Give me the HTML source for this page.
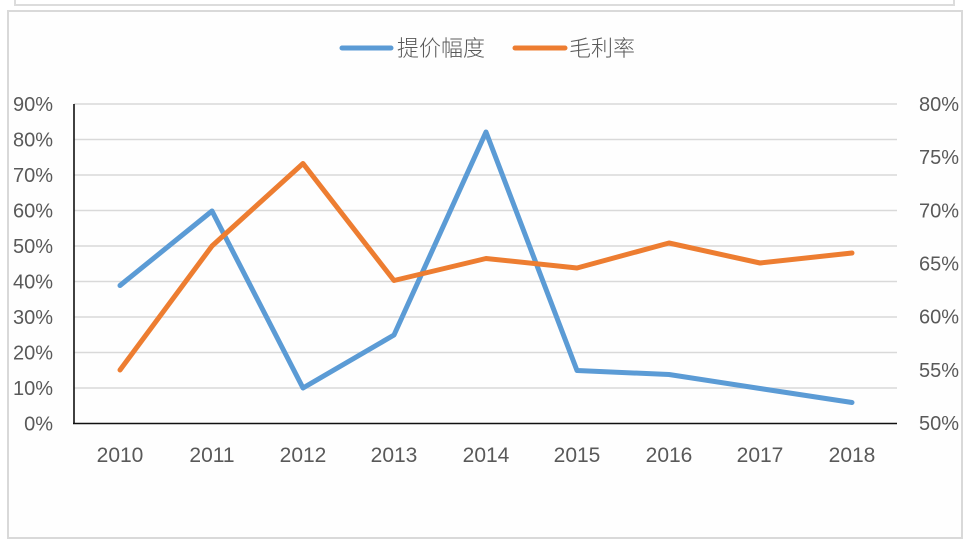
<!DOCTYPE html>
<html>
<head>
<meta charset="utf-8">
<style>
  html,body{margin:0;padding:0;background:#ffffff;}
  svg{display:block;}
  .ax{font-family:"Liberation Sans","Noto Sans CJK SC",sans-serif;font-size:20px;fill:#595959;}
  .xl{font-family:"Liberation Sans","Noto Sans CJK SC",sans-serif;font-size:21px;fill:#595959;}
  .lg{font-family:"Liberation Sans","Noto Sans CJK SC",sans-serif;font-size:22px;fill:#595959;font-weight:300;}
</style>
</head>
<body>
<svg width="972" height="558" viewBox="0 0 972 558" xmlns="http://www.w3.org/2000/svg">
  <rect x="0" y="0" width="972" height="558" fill="#ffffff"/>
  <!-- top partial box -->
  <path d="M15 0 V5 H954 V0" fill="none" stroke="#dcdcdc" stroke-width="2"/>
  <!-- main box -->
  <rect x="8" y="11" width="954" height="527" fill="#fefefe" stroke="#d9d9d9" stroke-width="2"/>

  <!-- legend -->
  <line x1="342" y1="48" x2="391" y2="48" stroke="#5B9BD5" stroke-width="5" stroke-linecap="round"/>
  <text class="lg" x="397" y="56">提价幅度</text>
  <line x1="515" y1="48" x2="565" y2="48" stroke="#ED7D31" stroke-width="5" stroke-linecap="round"/>
  <text class="lg" x="569" y="56">毛利率</text>

  <!-- gridlines -->
  <g stroke="#d9d9d9" stroke-width="1.6">
    <line x1="74" y1="104" x2="897" y2="104"/>
    <line x1="74" y1="139.5" x2="897" y2="139.5"/>
    <line x1="74" y1="175" x2="897" y2="175"/>
    <line x1="74" y1="210.5" x2="897" y2="210.5"/>
    <line x1="74" y1="246" x2="897" y2="246"/>
    <line x1="74" y1="281.5" x2="897" y2="281.5"/>
    <line x1="74" y1="317" x2="897" y2="317"/>
    <line x1="74" y1="352.5" x2="897" y2="352.5"/>
    <line x1="74" y1="388" x2="897" y2="388"/>
  </g>
  <!-- axes -->
  <line x1="74" y1="104" x2="74" y2="424" stroke="#111" stroke-width="1.6"/>
  <line x1="73" y1="423.5" x2="897" y2="423.5" stroke="#111" stroke-width="1.6"/>

  <!-- left labels -->
  <g class="ax" text-anchor="end">
    <text x="53" y="111">90%</text>
    <text x="53" y="146.5">80%</text>
    <text x="53" y="182">70%</text>
    <text x="53" y="217.5">60%</text>
    <text x="53" y="253">50%</text>
    <text x="53" y="288.5">40%</text>
    <text x="53" y="324">30%</text>
    <text x="53" y="359.5">20%</text>
    <text x="53" y="395">10%</text>
    <text x="53" y="430.5">0%</text>
  </g>
  <!-- right labels -->
  <g class="ax" text-anchor="start">
    <text x="919" y="111">80%</text>
    <text x="919" y="164.2">75%</text>
    <text x="919" y="217.3">70%</text>
    <text x="919" y="270.5">65%</text>
    <text x="919" y="323.7">60%</text>
    <text x="919" y="376.8">55%</text>
    <text x="919" y="430">50%</text>
  </g>
  <!-- x labels -->
  <g class="xl" text-anchor="middle">
    <text x="120" y="462">2010</text>
    <text x="212" y="462">2011</text>
    <text x="303" y="462">2012</text>
    <text x="394" y="462">2013</text>
    <text x="486" y="462">2014</text>
    <text x="577" y="462">2015</text>
    <text x="669" y="462">2016</text>
    <text x="760" y="462">2017</text>
    <text x="852" y="462">2018</text>
  </g>

  <!-- series -->
  <polyline fill="none" stroke="#5B9BD5" stroke-width="5" stroke-linejoin="round" stroke-linecap="round"
    points="120,285.5 212,211 303,388 394,335 486,132 577,370.5 669,374.5 760,388.5 852,402.5"/>
  <polyline fill="none" stroke="#ED7D31" stroke-width="5" stroke-linejoin="round" stroke-linecap="round"
    points="120,370 212,246 303,163.5 394,280.5 486,258.5 577,268 669,243 760,263 852,253"/>
</svg>
</body>
</html>
